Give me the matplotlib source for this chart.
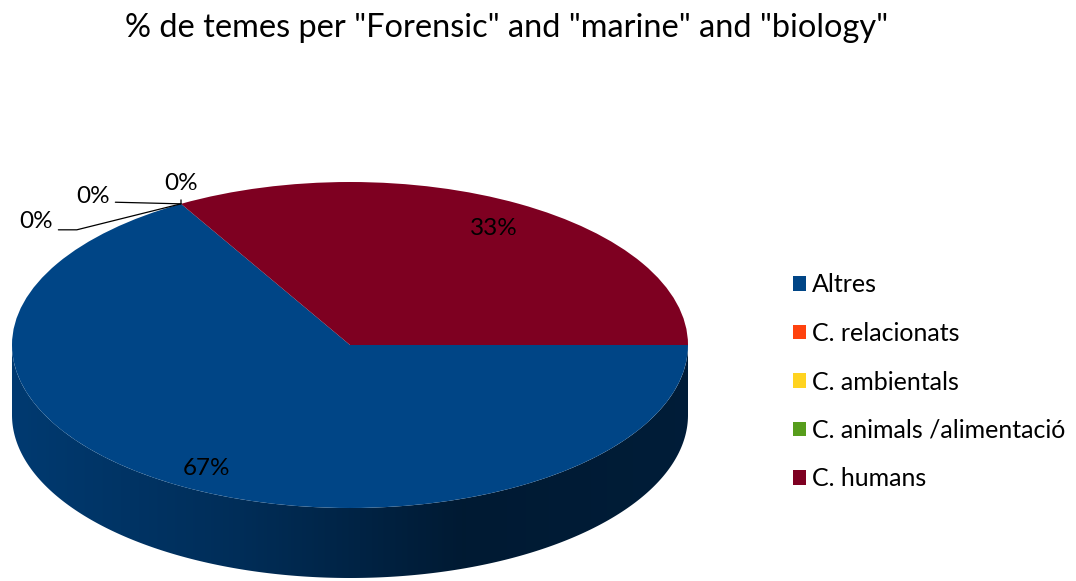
import matplotlib
matplotlib.use('Agg')
import matplotlib.pyplot as plt
import numpy as np
from matplotlib.colors import LinearSegmentedColormap, to_rgb
from matplotlib.patches import Polygon

plt.rcParams['font.family'] = ['Lato', 'DejaVu Sans']

title = '% de temes per "Forensic" and "marine" and "biology"'
categories = ['Altres', 'C. relacionats', 'C. ambientals', 'C. animals /alimentació', 'C. humans']
values = [2, 0, 0, 0, 1]
colors = ['#004586', '#ff420e', '#ffd320', '#579d1c', '#7e0021']

W, H = 1076, 581
fig = plt.figure(figsize=(W / 100, H / 100), dpi=100)

# geometry of the tilted pie, in pixels (top face centre measured from top-left)
cx, cy = 350, 345
rx, ry, depth = 338, 163, 70

ax = fig.add_axes([0, 0, 1, 1])
wedges, _ = ax.pie(values, colors=colors, startangle=0, counterclock=False,
                   radius=1, center=(0, 0), wedgeprops=dict(linewidth=0))
ax.set_aspect('auto')
d = depth / ry

# side of the cylinder: only the front half (sin < 0) is visible
grad = np.linspace(0, 1, 256).reshape(1, -1)
for w, c in zip(wedges, colors):
    base = np.array(to_rgb(c))
    cmap = LinearSegmentedColormap.from_list(
        'side', [base * 0.84, base * 0.66, base * 0.38, base * 0.42], N=256)
    for k in (-1, 0, 1):
        a = max(w.theta1, -180 + 360 * k)
        b = min(w.theta2, 360 * k)
        if b <= a:
            continue
        t = np.radians(np.linspace(a, b, 300))
        xs, ys = np.cos(t), np.sin(t)
        pts = np.concatenate([np.column_stack([xs, ys]),
                              np.column_stack([xs[::-1], ys[::-1] - d])])
        poly = Polygon(pts, closed=True, facecolor='none', edgecolor='none')
        ax.add_patch(poly)
        im = ax.imshow(grad, extent=[-1, 1, -1 - d, 0], aspect='auto',
                       cmap=cmap, zorder=0, interpolation='bilinear')
        im.set_clip_path(poly)

ax.set_xlim(-cx / rx, (W - cx) / rx)
ax.set_ylim(-(H - cy) / ry, cy / ry)
ax.axis('off')

# percentage labels
total = sum(values)
zero_offsets = [(-145, -18), (-88, 7), (0, 20)]
zero_i = 0
for w, v in zip(wedges, values):
    pct = f'{v / total:.0%}'
    if v > 0:
        mid = np.radians((w.theta1 + w.theta2) / 2)
        ax.text(0.85 * np.cos(mid), 0.85 * np.sin(mid) - 0.02, pct,
                ha='center', va='center', fontsize=17.5)
    else:
        ang = np.radians(w.theta1)
        dx, dy = zero_offsets[zero_i]
        if zero_i == 0:
            arrow = dict(arrowstyle='-', color='black', lw=0.9, shrinkB=0,
                         relpos=(1, 0.12),
                         connectionstyle='angle,angleA=0,angleB=14,rad=0')
        elif zero_i == 1:
            arrow = dict(arrowstyle='-', color='black', lw=0.9, shrinkB=0,
                         relpos=(1, 0.25))
        else:
            arrow = dict(arrowstyle='-', color='black', lw=0.9, shrinkB=0)
        ax.annotate(pct, xy=(np.cos(ang), np.sin(ang)), xytext=(dx, dy),
                    textcoords='offset pixels', ha='center', va='center',
                    fontsize=17.5, arrowprops=arrow)
        zero_i += 1

ax.legend(wedges, categories, loc='center left',
          bbox_to_anchor=(793 / W, 1 - 382 / H), bbox_transform=fig.transFigure,
          frameon=False, fontsize=18, handlelength=0.52, handleheight=0.52,
          handletextpad=0.25, labelspacing=1.02, borderpad=0, borderaxespad=0)

fig.text(506.5 / W, 1 - 28 / H, title, ha='center', va='center', fontsize=23.4)

fig.savefig('out.png', dpi=100)
